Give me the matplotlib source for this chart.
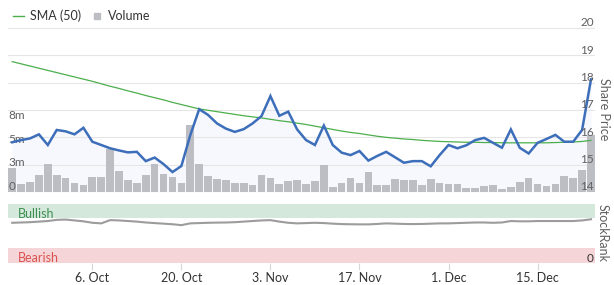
import numpy as np
import pandas as pd
import matplotlib.pyplot as plt
from matplotlib.lines import Line2D

plt.rcParams['font.family'] = ['Lato', 'DejaVu Sans']

# trading days shown on the chart (ordinal axis, weekends skipped)
dates = pd.bdate_range('2025-09-23', '2025-12-23')

# share price (close) per trading day
price = [15.82, 15.90, 15.96, 16.11, 15.72, 16.27, 16.22, 16.11, 16.35, 15.84,
         15.72, 15.60, 15.52, 15.45, 15.47, 15.13, 15.26, 15.02, 14.73, 14.95,
         16.08, 17.03, 16.82, 16.51, 16.32, 16.20, 16.30, 16.51, 16.78, 17.51,
         16.79, 16.94, 16.29, 15.90, 15.72, 16.43, 15.72, 15.44, 15.35, 15.50,
         15.15, 15.32, 15.47, 15.27, 15.07, 15.13, 15.13, 14.94, 15.35, 15.72,
         15.60, 15.71, 15.90, 15.98, 15.80, 15.62, 16.29, 15.62, 15.41, 15.80,
         15.94, 16.09, 15.84, 15.84, 16.27, 18.12]

# 50 day simple moving average
sma50 = [18.77, 18.69, 18.61, 18.53, 18.45, 18.37, 18.29, 18.21, 18.13, 18.05,
         17.96, 17.87, 17.79, 17.70, 17.62, 17.53, 17.45, 17.37, 17.28, 17.20,
         17.12, 17.04, 16.99, 16.94, 16.89, 16.84, 16.79, 16.75, 16.71, 16.66,
         16.61, 16.57, 16.52, 16.47, 16.41, 16.35, 16.29, 16.23, 16.18, 16.14,
         16.09, 16.04, 16.00, 15.97, 15.94, 15.92, 15.89, 15.87, 15.85, 15.84,
         15.83, 15.82, 15.82, 15.81, 15.81, 15.80, 15.80, 15.80, 15.80, 15.80,
         15.80, 15.81, 15.82, 15.83, 15.85, 15.89]

# volume in millions of shares
volume_m = [2.54, 0.82, 1.06, 1.77, 2.93, 1.77, 1.48, 0.92, 0.71, 1.56,
            1.56, 4.60, 2.22, 1.27, 0.92, 1.77, 2.93, 1.91, 1.59, 0.92,
            7.07, 2.93, 1.69, 1.38, 1.27, 0.92, 0.92, 0.71, 1.77, 1.48,
            0.82, 1.17, 1.27, 0.82, 1.17, 2.86, 0.50, 0.92, 1.48, 0.92,
            2.12, 0.71, 0.71, 1.38, 1.27, 1.27, 0.71, 1.38, 0.92, 0.82,
            0.82, 0.42, 0.42, 0.60, 0.71, 0.32, 0.53, 1.06, 1.48, 0.82,
            0.60, 0.82, 1.66, 1.48, 2.33, 6.04]

# StockRank (0-100)
stockrank = [68, 68.5, 69, 70, 71, 73, 73.5, 72, 70.5, 68,
             67, 72.5, 72, 71, 70, 68.5, 67.5, 66.5, 65.5, 64,
             67, 67.5, 68, 68.3, 68.5, 69, 70, 71, 72, 72.5,
             70, 68, 67, 67.5, 68, 67.5, 66.5, 65.8, 65.5, 65.3,
             65.3, 66, 67, 66.5, 66, 65.8, 66, 66.5, 67, 67,
             67.5, 68, 68.5, 68.5, 68, 68.5, 71, 70.5, 70.5, 71,
             71, 71, 71, 71, 72, 74]

tick_dates = ['2025-10-06', '2025-10-20', '2025-11-03', '2025-11-17', '2025-12-01', '2025-12-15']
tick_labels = ['6. Oct', '20. Oct', '3. Nov', '17. Nov', '1. Dec', '15. Dec']
price_ticks = [14, 15, 16, 17, 18, 19, 20]
vol_ticks = [0, 2.5, 5, 7.5]
vol_labels = ['0', '3m', '5m', '8m']

blue = '#3d6eba'
green = '#4cae4c'
bar_grey = '#bcbec4'
label_grey = '#606060'

W, H = 614, 285
fig = plt.figure(figsize=(W / 100, H / 100), dpi=100)


def px_box(x0, y0, x1, y1):
    return [x0 / W, 1 - y1 / H, (x1 - x0) / W, (y1 - y0) / H]


main_box = px_box(8, 10, 595, 192)
rank_box = px_box(8, 204, 595, 262.7)

x = np.arange(len(dates))
xlim = (-0.47, len(dates) - 1 + 0.45)
price_lim = (14, 20.66)

# background: grid + area under the price
ax_bg = fig.add_axes(main_box)
for v in price_ticks:
    ax_bg.axhline(v, color='#e6e6e6', lw=0.8)
ax_bg.fill_between(x, price, price_lim[0], color='#f6f8fd', lw=0)
ax_bg.set_xlim(xlim)
ax_bg.set_ylim(price_lim)
ax_bg.axis('off')

# volume bars
ax_vol = fig.add_axes(main_box)
ax_vol.patch.set_visible(False)
ax_vol.bar(x, volume_m, width=0.86, color=bar_grey, lw=0)
ax_vol.set_xlim(xlim)
ax_vol.set_ylim(0, 19.28)
ax_vol.axis('off')
for v, lbl in zip(vol_ticks, vol_labels):
    ax_vol.annotate(lbl, xy=(0, v), xycoords=ax_vol.get_yaxis_transform(),
                    xytext=(0.2, 1.4), textcoords='offset points',
                    ha='left', va='baseline', fontsize=8.5, color=label_grey)

# price and moving average
ax_px = fig.add_axes(main_box)
ax_px.patch.set_visible(False)
ax_px.plot(x, sma50, color=green, lw=0.9)
ax_px.plot(x, price, color=blue, lw=1.8, solid_joinstyle='miter')
ax_px.set_xlim(xlim)
ax_px.set_ylim(price_lim)
ax_px.axis('off')
for v in price_ticks:
    ax_px.annotate(str(v), xy=(1, v), xycoords=ax_px.get_yaxis_transform(),
                   xytext=(-0.8, 1.2), textcoords='offset points',
                   ha='right', va='baseline', fontsize=8.5, color=label_grey)

fig.text(603.5 / W, 1 - 109 / H, 'Share Price', rotation=-90, ha='center', va='center',
         fontsize=9, color=label_grey)

handles = [Line2D([], [], color=green, lw=1),
           Line2D([], [], marker='s', ls='', color=bar_grey, markersize=3.8)]
fig.legend(handles, ['SMA (50)', 'Volume'], loc='center left',
           bbox_to_anchor=(13 / W, 1 - 16 / H), ncol=2, frameon=False,
           fontsize=9, handlelength=0.9, handletextpad=0.45, columnspacing=0.8,
           borderpad=0, borderaxespad=0, labelcolor='#333333')

# StockRank panel
ax_rank = fig.add_axes(rank_box)
ax_rank.axhspan(76.5, 100, color='#d4e8dc', lw=0)
ax_rank.axhspan(0, 24.5, color='#f5d5d7', lw=0)
ax_rank.plot(x, stockrank, color='#9c9c9c', lw=1.5)
ax_rank.set_xlim(xlim)
ax_rank.set_ylim(0, 100)
for s in ax_rank.spines.values():
    s.set_visible(False)
ax_rank.set_yticks([])
tick_pos = [dates.get_loc(pd.Timestamp(d)) for d in tick_dates]
ax_rank.set_xticks(tick_pos)
ax_rank.set_xticklabels(tick_labels)
ax_rank.tick_params(axis='x', length=5.2, width=0.8, color='#d8d8d8', pad=1.5,
                    labelsize=9, labelcolor='#333333')
ax_rank.text(0.0175, 75.6, 'Bullish', transform=ax_rank.get_yaxis_transform(),
             ha='left', va='baseline', fontsize=9, color='#3d8f52')
ax_rank.text(0.0175, 1.8, 'Bearish', transform=ax_rank.get_yaxis_transform(),
             ha='left', va='baseline', fontsize=9, color='#d9534f')
ax_rank.text(0.9966, 1.8, '0', transform=ax_rank.get_yaxis_transform(),
             ha='right', va='baseline', fontsize=8.5, color='#333333')

fig.text(603 / W, 1 - 233 / H, 'StockRank', rotation=-90, ha='center', va='center',
         fontsize=9, color=label_grey)

fig.savefig('out.png', dpi=100)
